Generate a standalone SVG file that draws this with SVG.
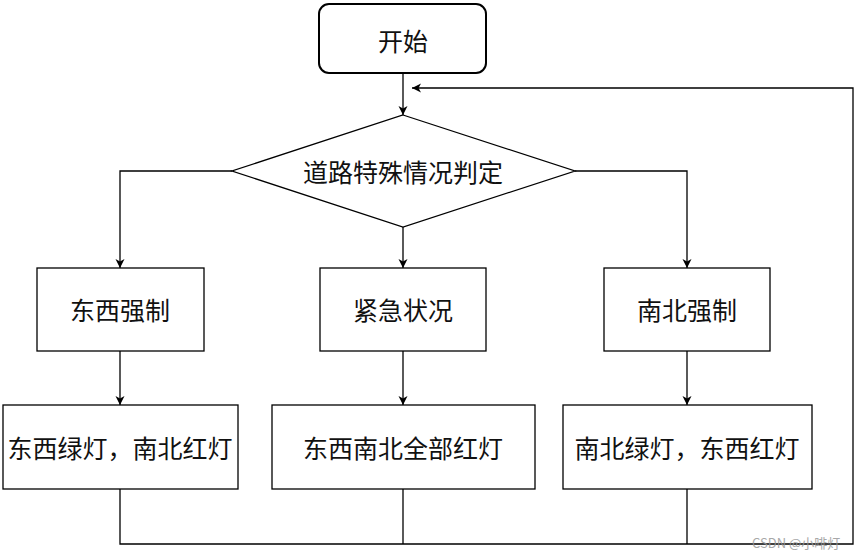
<svg xmlns="http://www.w3.org/2000/svg" width="868" height="559" viewBox="0 0 868 559">
<defs>
<marker id="arr" markerWidth="12" markerHeight="12" refX="10" refY="6" orient="auto" markerUnits="userSpaceOnUse">
<path d="M1,1.5 L10,6 L1,10.5 L3.5,6 Z" fill="#000"/>
</marker>
</defs>
<style>
.box{fill:#fff;stroke:#000;stroke-width:1.3}
.t{font-family:"Noto Sans CJK SC","Noto Sans",sans-serif;font-size:25px;fill:#111;text-anchor:middle;dominant-baseline:central}
.c{fill:none;stroke:#000;stroke-width:1.3}
.wm{font-family:"Noto Sans CJK SC","Noto Sans",sans-serif;font-size:13px;fill:#999;opacity:0.85}
</style>
<g id="start"><rect x="319" y="4" width="167" height="69" rx="10" class="box" style="stroke-width:2"/><text class="t" x="403" y="40">开始</text></g>
<g id="judge"><polygon points="403,115 575,171 403,227 232,171" class="box"/><text class="t" x="403" y="171">道路特殊情况判定</text></g>
<g id="ew"><rect x="37" y="268" width="167" height="83" class="box"/><text class="t" x="120" y="309">东西强制</text></g>
<g id="em"><rect x="320" y="268" width="166" height="83" class="box"/><text class="t" x="403" y="309">紧急状况</text></g>
<g id="ns"><rect x="604" y="268" width="166" height="83" class="box"/><text class="t" x="687" y="309">南北强制</text></g>
<g id="ewg"><rect x="3" y="405" width="235" height="84" class="box"/><text class="t" x="120" y="447">东西绿灯，南北红灯</text></g>
<g id="allr"><rect x="272" y="405" width="263" height="84" class="box"/><text class="t" x="403" y="447">东西南北全部红灯</text></g>
<g id="nsg"><rect x="563" y="405" width="249" height="84" class="box"/><text class="t" x="687" y="447">南北绿灯，东西红灯</text></g>
<g id="connectors">
<path class="c" d="M403,73 V115" marker-end="url(#arr)"/>
<path class="c" d="M232,171 H120 V268" marker-end="url(#arr)"/>
<path class="c" d="M403,227 V268" marker-end="url(#arr)"/>
<path class="c" d="M575,171 H687 V268" marker-end="url(#arr)"/>
<path class="c" d="M120,351 V405" marker-end="url(#arr)"/>
<path class="c" d="M403,351 V405" marker-end="url(#arr)"/>
<path class="c" d="M687,351 V405" marker-end="url(#arr)"/>
<path class="c" d="M120,489 V544 H853 V88 H412" marker-end="url(#arr)"/>
<path class="c" d="M403,489 V544"/>
<path class="c" d="M687,489 V544"/>
</g>
<text class="wm" x="752" y="548">CSDN @小啡灯</text>
</svg>
